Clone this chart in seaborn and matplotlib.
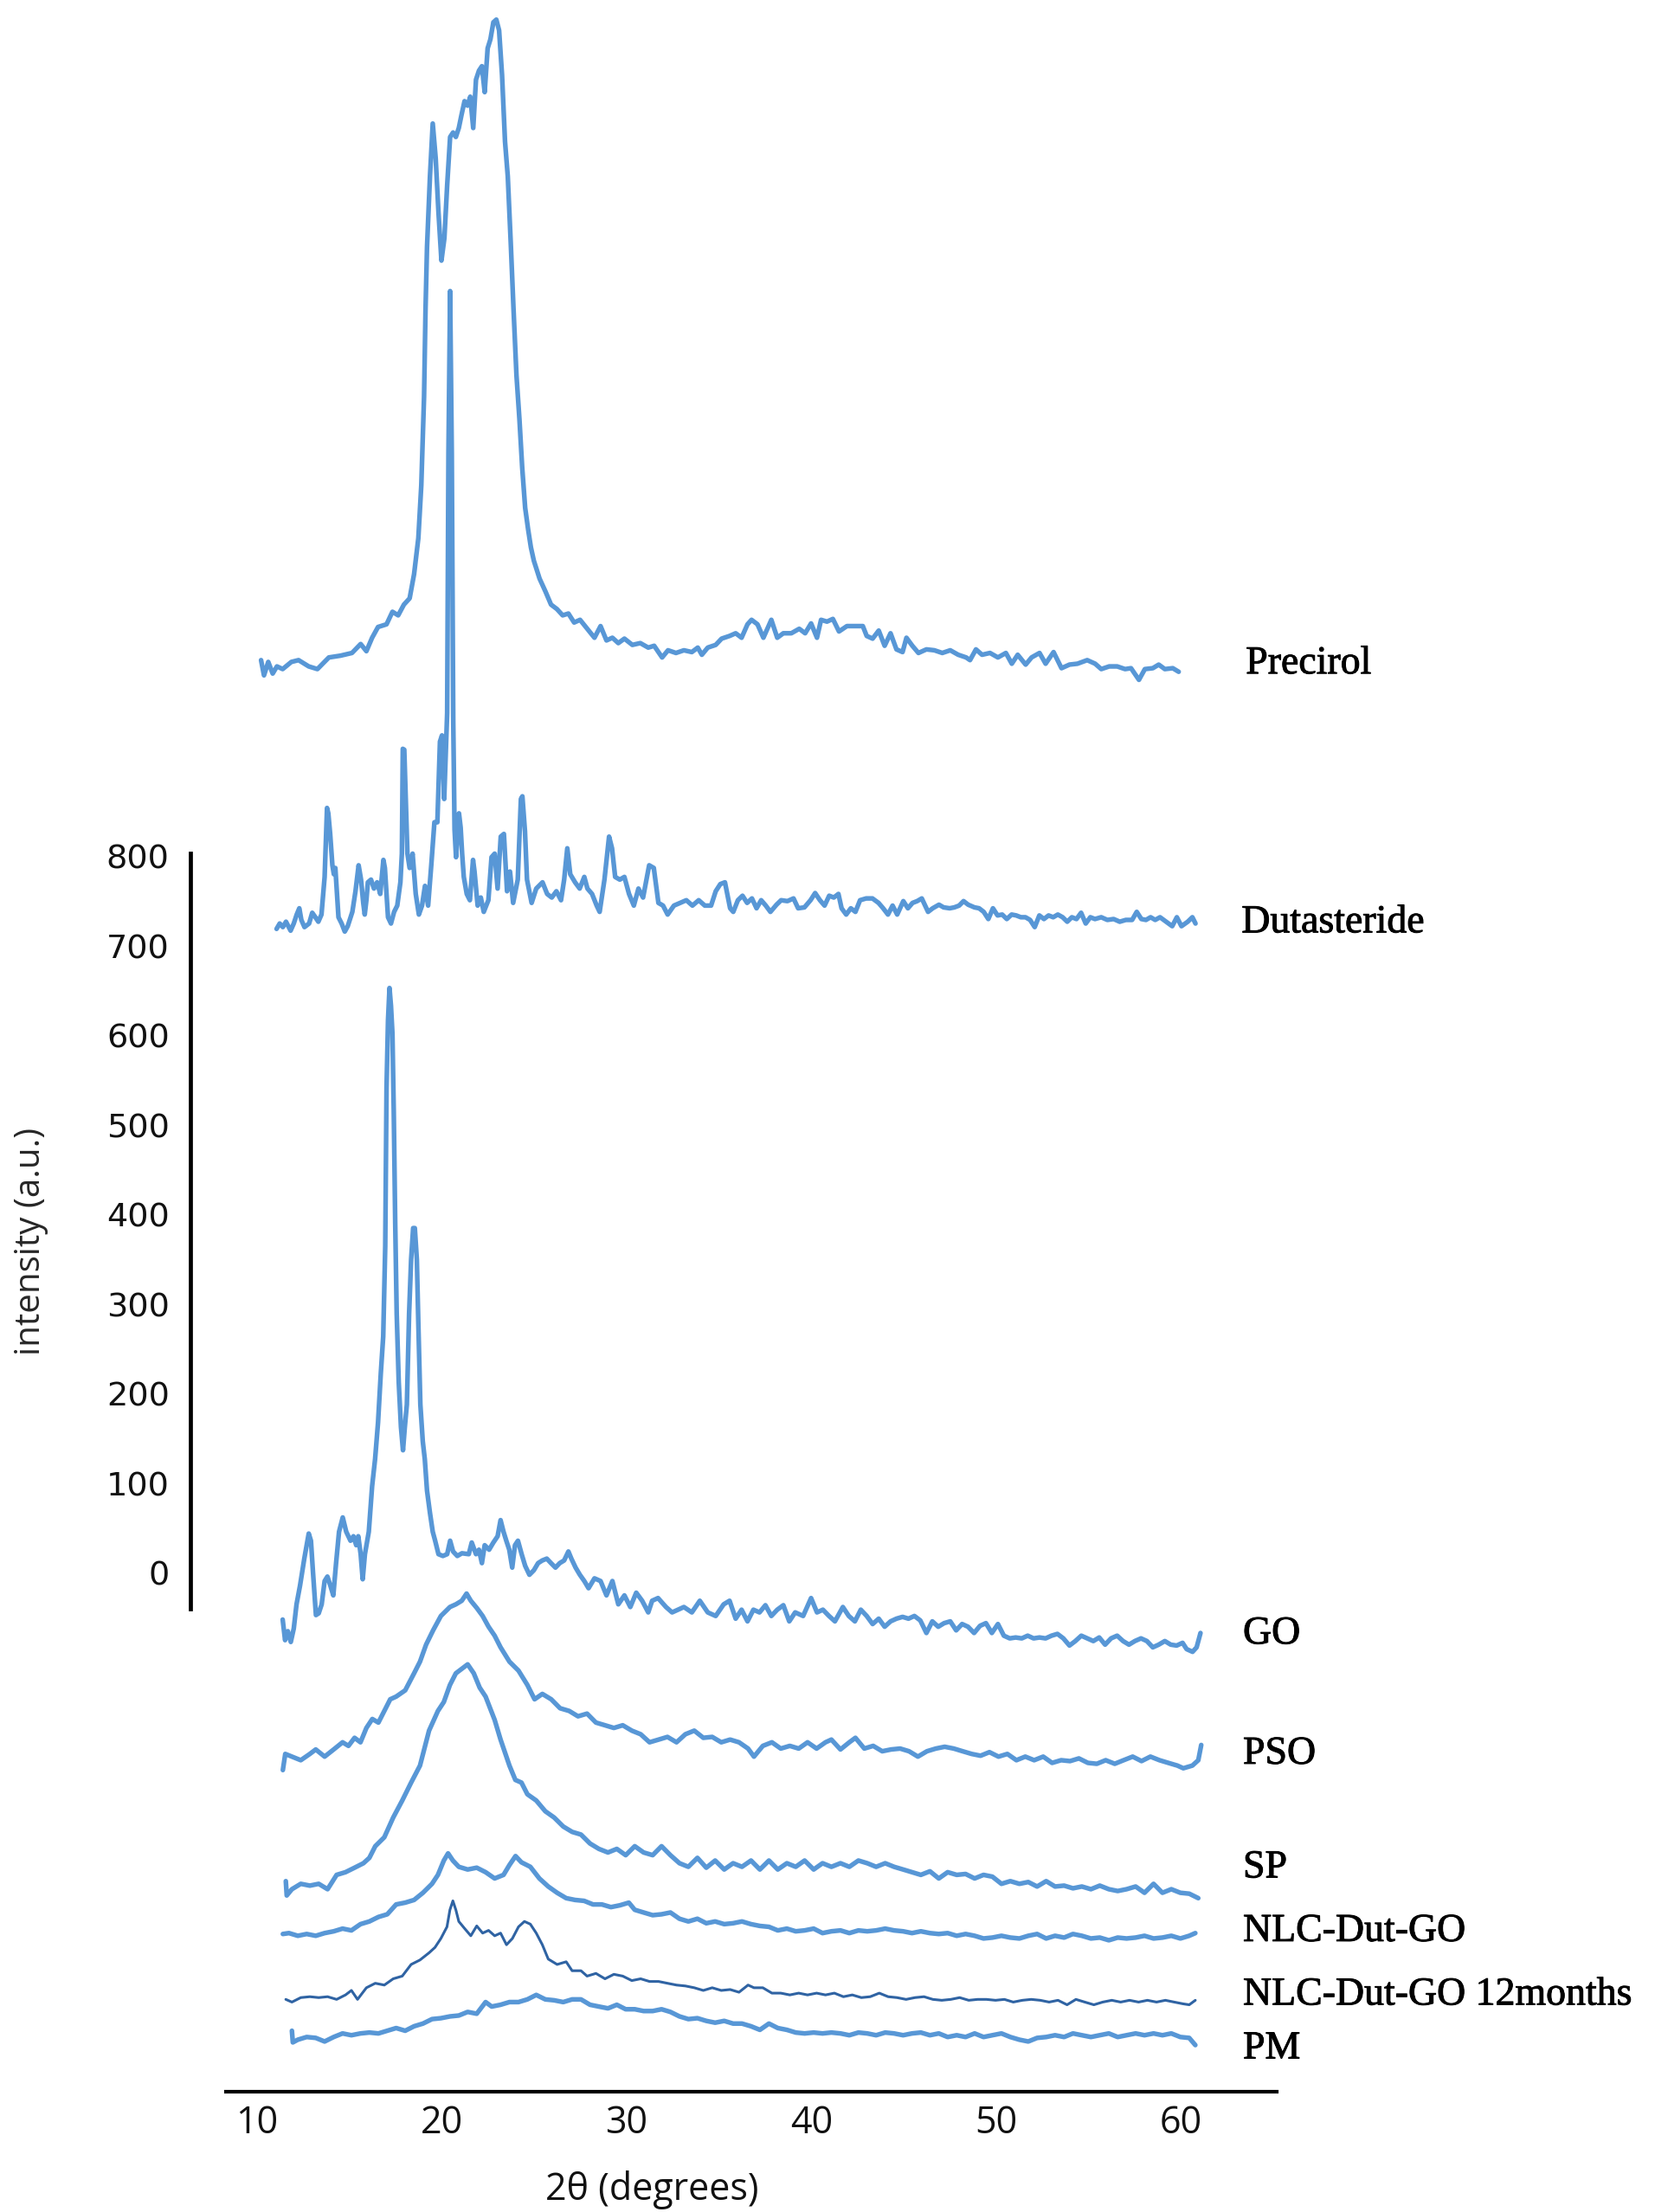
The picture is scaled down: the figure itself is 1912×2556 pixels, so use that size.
import matplotlib
matplotlib.use("Agg")
import matplotlib.pyplot as plt
import matplotlib.patheffects as pe
import pandas as pd
import seaborn as sns

# XRD patterns: (2theta in degrees, intensity as read on the axis)
precirol = [
    (10.23, 1019), (10.39, 1002), (10.62, 1017), (10.86, 1004), (11.09, 1012), (11.40, 1009),
    (11.87, 1017), (12.26, 1019), (12.81, 1012), (13.28, 1009), (13.90, 1022), (14.53, 1024),
    (15.15, 1027), (15.62, 1037), (15.93, 1029), (16.24, 1044), (16.56, 1056), (17.02, 1059),
    (17.34, 1073), (17.65, 1069), (17.96, 1081), (18.27, 1088), (18.51, 1115), (18.74, 1155),
    (18.90, 1214), (19.05, 1313), (19.13, 1411), (19.21, 1480), (19.37, 1559), (19.52, 1618),
    (19.68, 1579), (19.83, 1519), (19.99, 1465), (20.15, 1490), (20.30, 1549), (20.46, 1603),
    (20.62, 1608), (20.77, 1603), (20.93, 1613), (21.08, 1628), (21.24, 1643), (21.40, 1638),
    (21.55, 1648), (21.71, 1613), (21.86, 1667), (22.02, 1677), (22.18, 1682), (22.33, 1653),
    (22.49, 1702), (22.64, 1712), (22.80, 1731), (22.96, 1734), (23.11, 1722), (23.27, 1672),
    (23.43, 1598), (23.58, 1559), (23.74, 1485), (23.89, 1411), (24.05, 1337), (24.21, 1288),
    (24.36, 1234), (24.52, 1189), (24.68, 1165), (24.83, 1145), (24.99, 1130), (25.30, 1110),
    (25.61, 1096), (25.92, 1081), (26.24, 1076), (26.55, 1069), (26.86, 1071), (27.17, 1061),
    (27.49, 1064), (27.80, 1056), (28.27, 1044), (28.60, 1057), (28.92, 1041), (29.24, 1044),
    (29.56, 1038), (29.89, 1043), (30.32, 1036), (30.75, 1038), (31.18, 1033), (31.50, 1035),
    (31.93, 1022), (32.25, 1030), (32.68, 1027), (33.11, 1030), (33.54, 1028), (33.86, 1033),
    (34.08, 1025), (34.40, 1033), (34.83, 1036), (35.15, 1043), (35.58, 1046), (35.91, 1049),
    (36.23, 1044), (36.55, 1059), (36.77, 1064), (37.09, 1059), (37.41, 1044), (37.84, 1064),
    (38.16, 1044), (38.49, 1049), (38.92, 1049), (39.35, 1054), (39.67, 1049), (39.99, 1060),
    (40.31, 1044), (40.53, 1064), (40.85, 1062), (41.17, 1065), (41.50, 1051), (41.93, 1057),
    (42.36, 1057), (42.79, 1057), (43.00, 1046), (43.32, 1043), (43.65, 1052), (43.97, 1035),
    (44.29, 1049), (44.61, 1031), (44.94, 1028), (45.15, 1044), (45.47, 1035), (45.80, 1027),
    (46.23, 1031), (46.66, 1030), (47.09, 1027), (47.52, 1030), (47.95, 1025), (48.38, 1022),
    (48.59, 1019), (48.91, 1031), (49.24, 1025), (49.67, 1027), (50.10, 1022), (50.53, 1027),
    (50.85, 1015), (51.17, 1025), (51.60, 1014), (51.92, 1022), (52.35, 1027), (52.68, 1015),
    (53.11, 1028), (53.54, 1010), (53.97, 1014), (54.40, 1015), (54.93, 1019), (55.36, 1015),
    (55.69, 1009), (56.12, 1012), (56.55, 1012), (56.98, 1009), (57.30, 1010), (57.73, 997),
    (58.05, 1009), (58.48, 1010), (58.80, 1014), (59.13, 1009), (59.56, 1010), (59.88, 1006),
]

dutasteride = [
    (11.07, 719), (11.24, 725), (11.41, 721), (11.58, 727), (11.83, 717), (12.00, 725),
    (12.16, 735), (12.30, 742), (12.41, 729), (12.58, 721), (12.83, 725), (13.00, 737),
    (13.17, 732), (13.33, 727), (13.50, 735), (13.67, 777), (13.75, 825), (13.80, 854),
    (13.87, 848), (13.97, 825), (14.09, 790), (14.17, 780), (14.25, 787), (14.34, 758),
    (14.42, 732), (14.59, 725), (14.76, 716), (14.92, 722), (15.17, 738), (15.34, 761),
    (15.51, 790), (15.64, 774), (15.76, 748), (15.84, 735), (15.93, 751), (16.01, 771),
    (16.18, 774), (16.34, 764), (16.51, 771), (16.68, 758), (16.85, 796), (16.93, 787),
    (17.10, 732), (17.26, 725), (17.43, 738), (17.60, 745), (17.77, 771), (17.85, 803),
    (17.90, 920), (17.98, 919), (18.05, 870), (18.15, 803), (18.27, 787), (18.43, 803),
    (18.60, 758), (18.77, 735), (18.94, 745), (19.10, 767), (19.27, 745), (19.44, 790),
    (19.61, 838), (19.77, 838), (19.91, 928), (20.02, 935), (20.14, 864), (20.24, 925),
    (20.30, 960), (20.37, 1250), (20.46, 1431), (20.55, 1250), (20.63, 950), (20.70, 830),
    (20.78, 799), (20.94, 848), (21.03, 832), (21.11, 803), (21.20, 777), (21.36, 758),
    (21.53, 751), (21.70, 796), (21.78, 783), (21.95, 745), (22.12, 754), (22.28, 738),
    (22.53, 751), (22.70, 799), (22.87, 803), (23.03, 764), (23.20, 822), (23.37, 825),
    (23.54, 761), (23.70, 783), (23.87, 748), (24.12, 774), (24.29, 864), (24.37, 867),
    (24.51, 828), (24.62, 774), (24.87, 748), (25.12, 764), (25.46, 771), (25.71, 758),
    (25.96, 754), (26.21, 761), (26.46, 751), (26.63, 774), (26.80, 809), (26.96, 780),
    (27.22, 771), (27.47, 764), (27.72, 777), (27.89, 764), (28.14, 758), (28.39, 745),
    (28.55, 738), (28.81, 774), (29.06, 822), (29.22, 809), (29.39, 777), (29.64, 774),
    (29.89, 777), (30.14, 758), (30.40, 745), (30.65, 764), (30.90, 754), (31.23, 790),
    (31.48, 787), (31.73, 748), (31.98, 745), (32.23, 735), (32.57, 745), (32.90, 748),
    (33.24, 751), (33.57, 745), (33.91, 751), (34.24, 745), (34.58, 745), (34.83, 761),
    (35.08, 769), (35.33, 771), (35.61, 742), (35.78, 738), (36.03, 751), (36.28, 756),
    (36.53, 748), (36.79, 753), (37.04, 742), (37.29, 751), (37.54, 745), (37.79, 738),
    (38.12, 746), (38.37, 751), (38.71, 750), (39.04, 753), (39.29, 742), (39.63, 743),
    (39.96, 751), (40.21, 759), (40.47, 751), (40.72, 745), (40.97, 756), (41.22, 754),
    (41.47, 758), (41.64, 742), (41.89, 735), (42.14, 742), (42.39, 738), (42.64, 751),
    (42.97, 753), (43.31, 753), (43.64, 748), (43.89, 742), (44.15, 735), (44.40, 745),
    (44.65, 735), (44.98, 750), (45.23, 742), (45.48, 748), (45.73, 750), (45.98, 753),
    (46.32, 738), (46.57, 742), (46.91, 746), (47.16, 743), (47.49, 742), (47.74, 743),
    (48.00, 745), (48.24, 750), (48.49, 746), (48.83, 743), (49.08, 742), (49.33, 738),
    (49.58, 730), (49.83, 742), (50.08, 734), (50.33, 735), (50.58, 730), (50.84, 735),
    (51.09, 734), (51.34, 732), (51.59, 732), (51.84, 729), (52.09, 721), (52.34, 734),
    (52.59, 730), (52.84, 734), (53.09, 732), (53.34, 735), (53.60, 732), (53.85, 727),
    (54.10, 732), (54.35, 730), (54.60, 737), (54.85, 725), (55.10, 732), (55.35, 730),
    (55.69, 732), (56.02, 729), (56.36, 730), (56.69, 727), (57.02, 729), (57.36, 729),
    (57.61, 738), (57.86, 730), (58.11, 729), (58.36, 732), (58.61, 729), (58.87, 732),
    (59.20, 727), (59.53, 722), (59.78, 732), (60.03, 722), (60.37, 727), (60.62, 732),
    (60.79, 725),
]

go = [
    (11.40, -52), (11.53, -75), (11.68, -65), (11.84, -77), (12.00, -62), (12.15, -35),
    (12.34, -14), (12.57, 16), (12.81, 44), (12.93, 36), (13.04, 1), (13.20, -47),
    (13.35, -45), (13.51, -35), (13.67, -9), (13.82, -4), (13.98, -14), (14.14, -25),
    (14.29, 11), (14.45, 46), (14.65, 62), (14.84, 46), (15.07, 36), (15.23, 41),
    (15.38, 31), (15.49, 41), (15.62, 21), (15.73, -7), (15.85, 21), (16.06, 46),
    (16.24, 97), (16.40, 127), (16.56, 168), (16.71, 223), (16.84, 264), (16.95, 365),
    (17.02, 542), (17.10, 617), (17.18, 653), (17.26, 633), (17.34, 602), (17.41, 516),
    (17.49, 390), (17.57, 289), (17.68, 213), (17.80, 163), (17.91, 137), (18.01, 163),
    (18.12, 188), (18.24, 289), (18.35, 350), (18.46, 385), (18.55, 385), (18.66, 350),
    (18.74, 279), (18.85, 188), (18.98, 147), (19.09, 127), (19.21, 92), (19.37, 67),
    (19.52, 46), (19.65, 36), (19.83, 21), (20.07, 19), (20.30, 21), (20.46, 36),
    (20.62, 24), (20.85, 19), (21.10, 22), (21.47, 21), (21.63, 34), (21.86, 21),
    (22.02, 26), (22.18, 11), (22.33, 31), (22.57, 26), (22.80, 34), (23.03, 41),
    (23.19, 59), (23.35, 46), (23.50, 36), (23.66, 26), (23.82, 6), (23.97, 31),
    (24.13, 36), (24.33, 21), (24.52, 8), (24.75, -2), (24.99, 3), (25.22, 11),
    (25.45, 14), (25.69, 16), (25.92, 11), (26.16, 6), (26.39, 11), (26.63, 14),
    (26.86, 24), (27.02, 16), (27.25, 6), (27.48, -2), (27.72, -9), (27.95, -17),
    (28.27, -6), (28.60, -9), (28.92, -25), (29.24, -9), (29.56, -35), (29.89, -25),
    (30.21, -38), (30.53, -22), (30.85, -31), (31.18, -44), (31.39, -31), (31.71, -28),
    (32.14, -38), (32.47, -44), (32.79, -41), (33.11, -38), (33.54, -44), (33.97, -31),
    (34.40, -44), (34.83, -48), (35.26, -35), (35.58, -31), (35.91, -51), (36.23, -41),
    (36.55, -54), (36.87, -41), (37.20, -44), (37.52, -36), (37.84, -48), (38.16, -41),
    (38.49, -36), (38.81, -54), (39.13, -44), (39.56, -48), (39.99, -28), (40.31, -44),
    (40.63, -41), (40.96, -48), (41.28, -54), (41.71, -38), (42.03, -48), (42.36, -54),
    (42.68, -41), (43.00, -48), (43.32, -57), (43.65, -51), (43.97, -60), (44.29, -54),
    (44.61, -51), (44.94, -49), (45.26, -51), (45.58, -48), (45.90, -53), (46.23, -67),
    (46.55, -54), (46.87, -60), (47.19, -56), (47.52, -54), (47.84, -64), (48.16, -57),
    (48.48, -60), (48.81, -67), (49.13, -59), (49.45, -56), (49.77, -67), (50.10, -57),
    (50.42, -70), (50.74, -73), (51.06, -72), (51.39, -73), (51.71, -70), (52.03, -73),
    (52.35, -72), (52.68, -73), (53.00, -70), (53.32, -68), (53.64, -73), (53.97, -81),
    (54.29, -76), (54.61, -70), (54.93, -73), (55.26, -76), (55.58, -72), (55.90, -80),
    (56.22, -73), (56.55, -70), (56.87, -76), (57.19, -80), (57.51, -76), (57.84, -73),
    (58.16, -76), (58.48, -83), (58.80, -80), (59.13, -76), (59.45, -80), (59.77, -81),
    (60.09, -78), (60.31, -85), (60.63, -88), (60.85, -83), (61.06, -67),
]

pso = [
    (11.41, -220), (11.54, -202), (11.90, -205), (12.38, -209), (12.87, -202), (13.19, -197),
    (13.67, -205), (14.16, -197), (14.64, -189), (14.96, -193), (15.29, -184), (15.61, -189),
    (15.93, -173), (16.25, -163), (16.58, -167), (16.90, -154), (17.22, -141), (17.54, -138),
    (18.03, -131), (18.51, -112), (18.83, -99), (19.16, -80), (19.54, -64), (19.96, -48),
    (20.45, -38), (20.77, -35), (21.09, -31), (21.35, -23), (21.58, -31), (21.90, -39),
    (22.22, -48), (22.54, -60), (22.87, -70), (23.19, -83), (23.67, -99), (24.16, -109),
    (24.64, -125), (25.03, -141), (25.45, -135), (25.93, -141), (26.41, -151), (26.90, -154),
    (27.38, -160), (27.87, -157), (28.35, -167), (28.84, -170), (29.32, -173), (29.80, -170),
    (30.29, -176), (30.77, -180), (31.25, -189), (31.74, -186), (32.22, -183), (32.71, -189),
    (33.19, -180), (33.67, -176), (34.16, -184), (34.64, -183), (35.13, -189), (35.61, -186),
    (36.09, -189), (36.58, -196), (36.90, -205), (37.38, -193), (37.87, -189), (38.35, -196),
    (38.84, -193), (39.32, -196), (39.80, -189), (40.29, -196), (40.77, -189), (41.09, -186),
    (41.58, -197), (42.06, -189), (42.39, -184), (42.87, -196), (43.35, -193), (43.84, -199),
    (44.32, -197), (44.81, -196), (45.29, -199), (45.77, -205), (46.26, -199), (46.74, -196),
    (47.22, -194), (47.71, -196), (48.19, -199), (48.68, -202), (49.16, -204), (49.64, -200),
    (50.13, -205), (50.61, -202), (51.10, -209), (51.58, -205), (52.06, -209), (52.55, -205),
    (53.03, -212), (53.52, -209), (54.00, -210), (54.48, -207), (54.97, -212), (55.45, -213),
    (55.93, -209), (56.42, -213), (56.90, -209), (57.39, -205), (57.87, -210), (58.35, -205),
    (58.84, -209), (59.32, -212), (59.81, -215), (60.13, -218), (60.62, -215), (60.94, -209),
    (61.10, -192),
]

sp = [
    (11.57, -344), (11.62, -360), (11.90, -353), (12.38, -347), (12.87, -349), (13.35, -347),
    (13.83, -353), (14.32, -337), (14.80, -334), (15.29, -329), (15.77, -324), (16.09, -318),
    (16.41, -305), (16.90, -295), (17.38, -273), (17.87, -254), (18.35, -234), (18.83, -215),
    (19.32, -176), (19.80, -154), (20.12, -144), (20.45, -125), (20.77, -112), (21.09, -107),
    (21.41, -102), (21.74, -112), (22.06, -128), (22.38, -138), (22.87, -164), (23.19, -186),
    (23.67, -215), (23.99, -231), (24.32, -234), (24.64, -247), (25.12, -254), (25.61, -266),
    (26.09, -273), (26.58, -283), (27.06, -289), (27.54, -292), (28.03, -302), (28.51, -308),
    (29.00, -312), (29.48, -308), (29.96, -315), (30.45, -305), (30.93, -312), (31.42, -315),
    (31.90, -305), (32.38, -315), (32.87, -324), (33.35, -328), (33.84, -318), (34.32, -329),
    (34.80, -321), (35.29, -331), (35.77, -324), (36.25, -328), (36.74, -321), (37.22, -331),
    (37.71, -321), (38.19, -331), (38.68, -324), (39.16, -328), (39.64, -321), (40.13, -331),
    (40.61, -324), (41.09, -328), (41.58, -324), (42.06, -328), (42.55, -321), (43.03, -324),
    (43.51, -328), (44.00, -324), (44.48, -328), (44.97, -331), (45.45, -334), (45.93, -337),
    (46.42, -333), (46.90, -341), (47.38, -334), (47.87, -337), (48.35, -336), (48.84, -341),
    (49.32, -337), (49.80, -339), (50.29, -347), (50.77, -344), (51.26, -347), (51.74, -345),
    (52.22, -350), (52.71, -344), (53.19, -350), (53.68, -349), (54.16, -352), (54.64, -350),
    (55.13, -353), (55.61, -349), (56.10, -353), (56.58, -355), (57.06, -353), (57.55, -350),
    (58.03, -357), (58.52, -347), (59.00, -357), (59.48, -353), (59.97, -357), (60.45, -358),
    (60.94, -363),
]

nlc_dut_go = [
    (11.41, -403), (11.74, -402), (12.22, -405), (12.70, -403), (13.19, -405), (13.67, -402),
    (14.16, -400), (14.64, -397), (15.12, -399), (15.61, -392), (16.09, -389), (16.58, -384),
    (17.06, -381), (17.54, -370), (18.03, -368), (18.51, -365), (18.99, -357), (19.48, -347),
    (19.80, -337), (20.12, -321), (20.35, -313), (20.61, -321), (20.93, -328), (21.41, -331),
    (21.90, -329), (22.38, -334), (22.87, -341), (23.35, -337), (23.67, -326), (24.00, -316),
    (24.32, -323), (24.80, -328), (25.29, -341), (25.77, -350), (26.25, -357), (26.74, -363),
    (27.22, -365), (27.71, -366), (28.19, -370), (28.67, -370), (29.16, -373), (29.64, -371),
    (30.13, -368), (30.45, -376), (30.93, -379), (31.42, -382), (31.90, -381), (32.38, -379),
    (32.87, -386), (33.35, -389), (33.84, -386), (34.32, -391), (34.80, -389), (35.29, -392),
    (35.77, -391), (36.25, -389), (36.74, -392), (37.22, -394), (37.71, -395), (38.19, -399),
    (38.68, -397), (39.16, -400), (39.64, -399), (40.13, -397), (40.61, -402), (41.09, -400),
    (41.58, -399), (42.06, -402), (42.55, -399), (43.03, -400), (43.51, -399), (44.00, -397),
    (44.48, -399), (44.97, -400), (45.45, -402), (45.93, -400), (46.42, -402), (46.90, -403),
    (47.38, -402), (47.87, -405), (48.35, -403), (48.84, -405), (49.32, -408), (49.80, -407),
    (50.29, -405), (50.77, -407), (51.26, -408), (51.74, -405), (52.22, -403), (52.71, -408),
    (53.19, -405), (53.68, -407), (54.16, -403), (54.64, -405), (55.13, -408), (55.61, -407),
    (56.10, -410), (56.58, -407), (57.06, -408), (57.55, -407), (58.03, -405), (58.52, -408),
    (59.00, -407), (59.48, -405), (59.97, -408), (60.45, -405), (60.78, -402),
]

nlc_dut_go_12m = [
    (11.57, -476), (11.90, -479), (12.38, -474), (12.87, -473), (13.35, -474), (13.83, -473),
    (14.32, -476), (14.80, -471), (15.12, -466), (15.45, -476), (15.93, -463), (16.41, -458),
    (16.90, -460), (17.38, -453), (17.87, -450), (18.35, -437), (18.83, -432), (19.32, -424),
    (19.64, -418), (19.96, -408), (20.29, -395), (20.45, -376), (20.61, -366), (20.77, -376),
    (20.93, -389), (21.25, -397), (21.58, -405), (21.90, -394), (22.22, -402), (22.54, -399),
    (22.87, -405), (23.19, -402), (23.51, -415), (23.83, -408), (24.16, -395), (24.48, -389),
    (24.80, -392), (25.12, -402), (25.45, -415), (25.77, -431), (26.25, -437), (26.74, -434),
    (27.06, -444), (27.54, -444), (27.87, -450), (28.35, -447), (28.84, -453), (29.32, -448),
    (29.80, -450), (30.29, -455), (30.77, -453), (31.25, -456), (31.74, -456), (32.22, -458),
    (32.71, -460), (33.19, -461), (33.67, -463), (34.16, -466), (34.64, -463), (35.13, -466),
    (35.61, -465), (36.09, -468), (36.58, -460), (36.90, -463), (37.38, -463), (37.87, -469),
    (38.35, -469), (38.84, -471), (39.32, -469), (39.80, -471), (40.29, -469), (40.77, -471),
    (41.25, -469), (41.74, -473), (42.22, -471), (42.71, -474), (43.19, -473), (43.68, -469),
    (44.16, -473), (44.64, -474), (45.13, -476), (45.61, -474), (46.10, -473), (46.58, -476),
    (47.06, -477), (47.55, -476), (48.03, -474), (48.52, -477), (49.00, -476), (49.48, -476),
    (49.97, -477), (50.45, -476), (50.93, -479), (51.42, -477), (51.90, -476), (52.39, -477),
    (52.87, -479), (53.35, -477), (53.84, -482), (54.32, -476), (54.80, -479), (55.29, -482),
    (55.77, -479), (56.26, -477), (56.74, -479), (57.22, -477), (57.71, -479), (58.19, -477),
    (58.68, -479), (59.16, -477), (59.64, -479), (60.13, -481), (60.45, -482), (60.78, -477),
]

pm = [
    (11.90, -511), (11.95, -524), (12.22, -521), (12.70, -518), (13.19, -519), (13.67, -523),
    (14.16, -518), (14.64, -514), (15.12, -516), (15.61, -514), (16.09, -513), (16.58, -514),
    (17.06, -511), (17.54, -508), (18.03, -511), (18.51, -506), (18.99, -503), (19.48, -498),
    (19.96, -497), (20.45, -495), (20.93, -494), (21.41, -490), (21.90, -492), (22.38, -479),
    (22.71, -484), (23.19, -482), (23.67, -479), (24.16, -479), (24.64, -476), (25.12, -471),
    (25.61, -476), (26.09, -477), (26.58, -479), (27.06, -476), (27.54, -476), (28.03, -482),
    (28.51, -484), (29.00, -486), (29.48, -482), (29.96, -487), (30.45, -487), (30.93, -489),
    (31.42, -489), (31.90, -487), (32.38, -490), (32.87, -495), (33.35, -498), (33.84, -497),
    (34.32, -500), (34.80, -502), (35.29, -500), (35.77, -503), (36.25, -503), (36.74, -506),
    (37.22, -510), (37.71, -503), (38.19, -508), (38.68, -510), (39.16, -513), (39.64, -514),
    (40.13, -513), (40.61, -514), (41.09, -513), (41.58, -514), (42.06, -516), (42.55, -513),
    (43.03, -514), (43.51, -516), (44.00, -513), (44.48, -514), (44.97, -516), (45.45, -514),
    (45.93, -513), (46.42, -516), (46.90, -514), (47.38, -518), (47.87, -516), (48.35, -518),
    (48.84, -514), (49.32, -518), (49.80, -516), (50.29, -514), (50.77, -518), (51.26, -521),
    (51.74, -523), (52.22, -519), (52.71, -518), (53.19, -516), (53.68, -518), (54.16, -514),
    (54.64, -516), (55.13, -518), (55.61, -516), (56.10, -514), (56.58, -518), (57.06, -516),
    (57.55, -514), (58.03, -516), (58.52, -514), (59.00, -516), (59.48, -514), (59.97, -518),
    (60.45, -519), (60.78, -527),
]

samples = ["Precirol", "Dutasteride", "GO", "PSO", "SP",
           "NLC-Dut-GO", "NLC-Dut-GO 12months", "PM"]
curves = [precirol, dutasteride, go, pso, sp, nlc_dut_go, nlc_dut_go_12m, pm]
x_ticks = [10, 20, 30, 40, 50, 60]
y_ticks = [0, 100, 200, 300, 400, 500, 600, 700, 800]

frames = []
for name, pts in zip(samples, curves):
    df = pd.DataFrame(pts, columns=["two_theta", "intensity"])
    df["sample"] = name
    frames.append(df)
data = pd.concat(frames, ignore_index=True)

sns.set_theme(style="white")
plt.rcParams["font.family"] = ["DejaVu Sans"]

fig = plt.figure(figsize=(19.12, 25.56), dpi=100)
ax = fig.add_axes([0.1364, 0.0542, 0.6351, 0.9458])

light_blue = "#5897d6"
dark_blue = "#2f63a3"
for name in samples:
    sub = data[data["sample"] == name]
    aged = name.endswith("12months")
    sns.lineplot(data=sub, x="two_theta", y="intensity", ax=ax, sort=False,
                 estimator=None, color=dark_blue if aged else light_blue,
                 linewidth=2.2 if aged else 3.9)

ax.set_xlim(8.32, 65.19)
ax.set_ylim(-579.5, 1755.9)
ax.set_xticks(x_ticks)
ax.set_yticks(y_ticks)

for side in ["top", "right"]:
    ax.spines[side].set_visible(False)
ax.spines["left"].set_position(("outward", 29.3))
ax.spines["left"].set_bounds(-40, 803)
ax.spines["left"].set_linewidth(3.4)
ax.spines["left"].set_color("black")
ax.spines["bottom"].set_linewidth(3.0)
ax.spines["bottom"].set_color("black")

ax.tick_params(axis="both", length=0)
ax.tick_params(axis="y", pad=17.6)
ax.tick_params(axis="x", pad=10)
for lab in ax.get_yticklabels():
    lab.set_fontfamily("DejaVu Sans")
    lab.set_fontsize(27.5)
    lab.set_color("#111111")
for lab in ax.get_xticklabels():
    lab.set_fontfamily("Open Sans")
    lab.set_fontsize(31)
    lab.set_color("#111111")

ax.set_xlabel("2θ (degrees)", fontfamily="Open Sans", fontsize=31, color="#111111")
ax.xaxis.set_label_coords(0.4054, -0.0467)
ax.xaxis.label.set_va("center")
ax.set_ylabel("intensity (a.u.)", fontfamily="Open Sans", fontsize=29, color="#262626")
ax.yaxis.set_label_coords(-0.1851, 0.4067)
ax.yaxis.label.set_va("center")

# sample names to the right of each pattern
label_x = [63.51, 63.28, 63.36, 63.36, 63.36, 63.36, 63.36, 63.36]
label_y = [1015, 726, -68, -202, -329, -400, -471, -531]
for name, lx, ly in zip(samples, label_x, label_y):
    ax.text(lx, ly, name, fontfamily="Liberation Serif", fontsize=33,
            ha="left", va="center", color="black",
            path_effects=[pe.withStroke(linewidth=0.7, foreground="black")])

fig.savefig("out.png", dpi=100)
